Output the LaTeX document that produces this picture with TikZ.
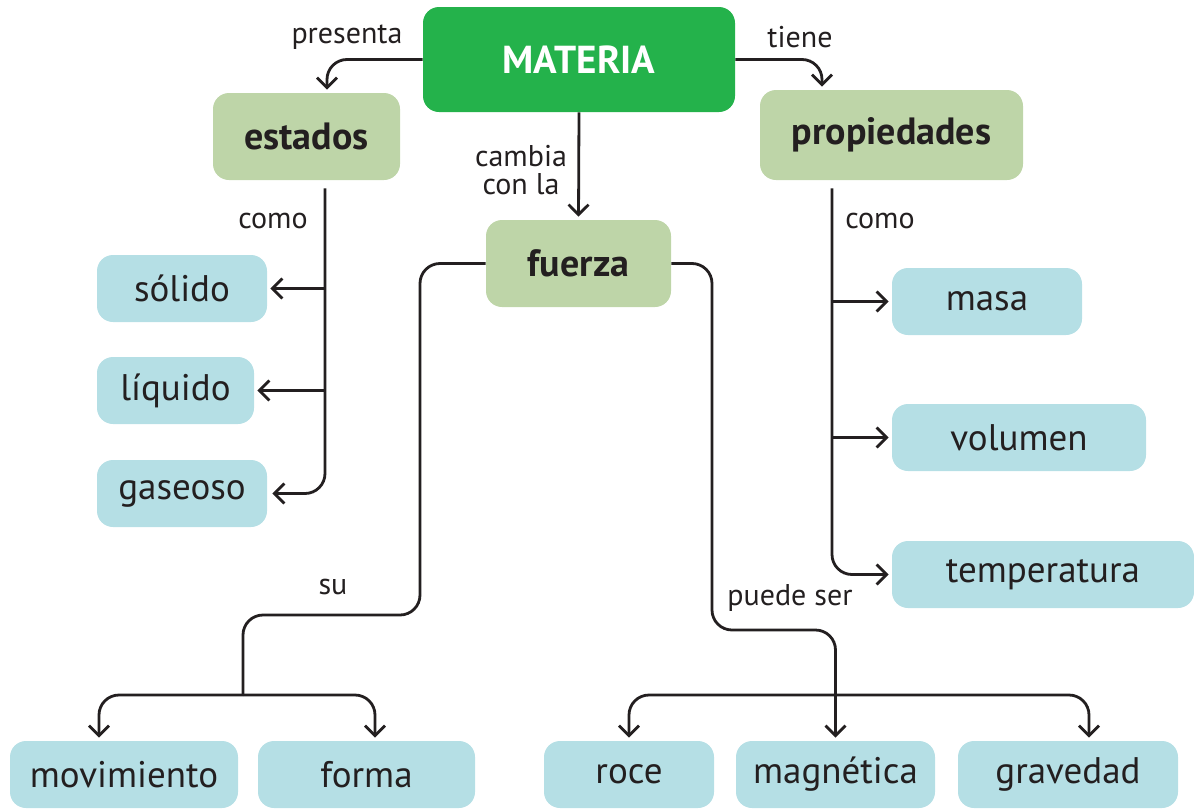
\documentclass[tikz,border=0pt]{standalone}
\usepackage{fontspec}
\setmainfont{PT Sans}
\usetikzlibrary{arrows.meta}
\definecolor{ink}{HTML}{231F20}
\definecolor{matgreen}{HTML}{24B24B}
\definecolor{lgreen}{HTML}{BED5A8}
\definecolor{lblue}{HTML}{B5DFE5}
\begin{document}
\begin{tikzpicture}[x=0.5pt,y=-0.5pt,
  box/.style={rectangle,rounded corners=8pt,inner sep=0pt,text=ink,font=\fontsize{18.5}{20}\selectfont},
  mainbox/.style={box,fill=matgreen,text=white,font=\fontsize{19.5}{22}\selectfont\bfseries},
  midbox/.style={box,fill=lgreen,font=\fontsize{19}{21}\selectfont\bfseries},
  leafbox/.style={box,fill=lblue},
  lbl/.style={text=ink,font=\fontsize{15}{16}\selectfont,inner sep=0pt},
  conn/.style={draw=ink,line width=1.4pt,rounded corners=10pt},
  arr/.style={conn,-{Straight Barb[length=5pt,width=10pt,line width=1.4pt]}}
]
\useasboundingbox (0,0) rectangle (1194,809);
% nodes
\node[mainbox,minimum width=156pt,minimum height=52.5pt] (mat) at (579,59.5) {MATERIA};
\node[midbox,minimum width=93.5pt,minimum height=43.5pt] (est) at (306.5,136.5) {estados};
\node[midbox,minimum width=131.5pt,minimum height=45pt] (prop) at (891.5,135) {propiedades};
\node[midbox,minimum width=92.5pt,minimum height=43.5pt] (fue) at (578.5,263.5) {fuerza};
\node[leafbox,minimum width=85pt,minimum height=33.5pt] (sol) at (182,288.5) {sólido};
\node[leafbox,minimum width=78.5pt,minimum height=33.5pt] (liq) at (175.5,390.5) {líquido};
\node[leafbox,minimum width=85pt,minimum height=33.5pt] (gas) at (182,493.5) {gaseoso};
\node[leafbox,minimum width=95pt,minimum height=33.5pt] (mas) at (987,301.5) {masa};
\node[leafbox,minimum width=127pt,minimum height=33.5pt] (vol) at (1019,437.5) {volumen};
\node[leafbox,minimum width=151pt,minimum height=33.5pt] (tem) at (1043,574.5) {temperatura};
\node[leafbox,minimum width=114pt,minimum height=33.5pt] (mov) at (124,774.5) {movimiento};
\node[leafbox,minimum width=108.5pt,minimum height=33.5pt] (for) at (366.5,774.5) {forma};
\node[leafbox,minimum width=85pt,minimum height=33.5pt] (roc) at (629,774.5) {roce};
\node[leafbox,minimum width=99.5pt,minimum height=33.5pt] (mag) at (835.5,774.5) {magnética};
\node[leafbox,minimum width=110pt,minimum height=33.5pt] (gra) at (1068,774.5) {gravedad};
% labels
\node[lbl] (l1) at (347,37) {presenta};
\node[lbl] (l2) at (800,37) {tiene};
\node[lbl,align=center] (l3) at (521,170) {cambia\\[-2pt]con la};
\node[lbl] (l4) at (273,221) {como};
\node[lbl] (l5) at (880,221) {como};
\node[lbl] (l6) at (333,587) {su};
\node[lbl] (l7) at (790,598) {puede ser};
% coordinates
\coordinate (etop) at ([xshift=9.25pt,yshift=-4pt]est.south);
\coordinate (ptop) at ([xshift=-29.75pt,yshift=-4pt]prop.south);
\coordinate (su1) at (420,615);
\coordinate (su2) at (243,695);
\coordinate (pu1) at (712,630);
\coordinate (pb) at (836,695);
% connectors
\draw[arr] (mat.west) -| ([xshift=10.25pt,yshift=1.5pt]est.north);
\draw[arr] (mat.east) -| ([xshift=-34.75pt,yshift=1.5pt]prop.north);
\draw[arr,shorten >=1.5pt] (mat.south) -- (fue.north);
\draw[arr] (etop) |- ([xshift=2.5pt]gas.east);
\draw[arr] (etop |- sol.east) -- ([xshift=1.5pt]sol.east);
\draw[arr] (etop |- liq.east) -- ([xshift=1.5pt]liq.east);
\draw[arr] (ptop) |- ([xshift=-1.5pt]tem.west);
\draw[arr] (ptop |- mas.west) -- ([xshift=-1.5pt]mas.west);
\draw[arr] (ptop |- vol.west) -- ([xshift=-1.5pt]vol.west);
\draw[conn] (fue.west) -| (su1) -| (su2);
\draw[arr] (su2) -| ([xshift=-12.5pt,yshift=1.5pt]mov.north);
\draw[arr] (su2) -| ([xshift=4.25pt,yshift=1.5pt]for.north);
\draw[arr] (fue.east) -| (pu1) -| ([yshift=1.5pt]mag.north);
\draw[arr] (pb) -| ([yshift=1.5pt]roc.north);
\draw[arr] (pb) -| ([xshift=10.5pt,yshift=1.5pt]gra.north);
\end{tikzpicture}
\end{document}
